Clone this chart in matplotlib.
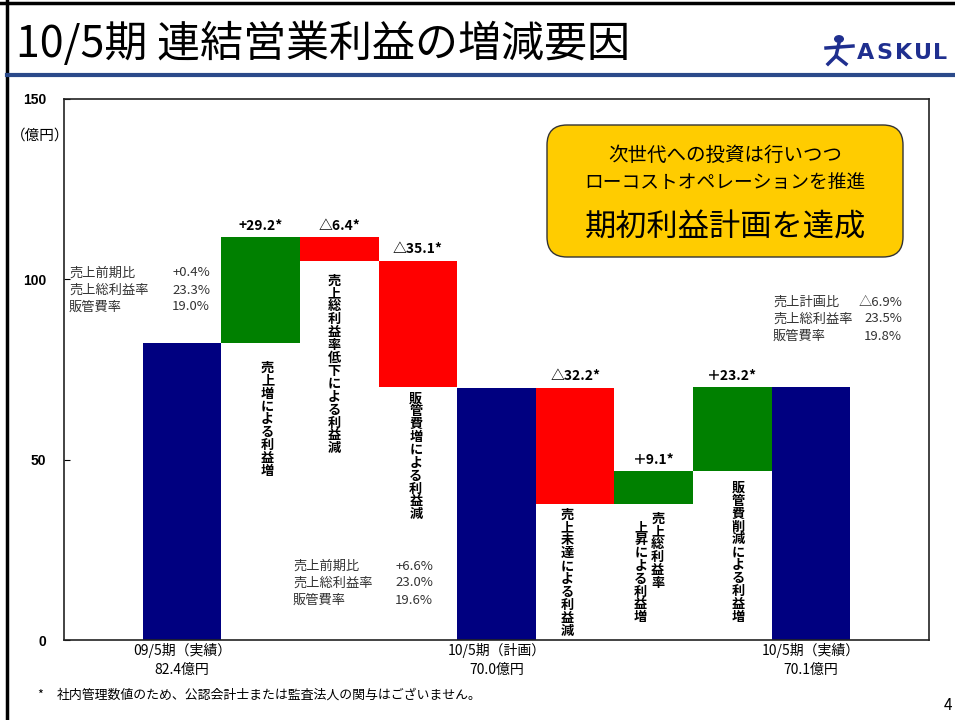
import matplotlib
matplotlib.use("Agg")
import matplotlib.pyplot as plt
from matplotlib.patches import FancyBboxPatch, Circle
from matplotlib.lines import Line2D
from matplotlib.transforms import IdentityTransform

plt.rcParams['font.family'] = ['Noto Sans CJK JP', 'DejaVu Sans']

# Data (億円)
total_names = ["09/5期（実績）", "10/5期（計画）", "10/5期（実績）"]
start_value = 82.4
plan_value = 70.0
result_value = 70.1
first_steps = [29.2, -6.4, -35.1]
second_steps = [-32.2, 9.1, 23.2]
step_labels = ["+29.2*", "△6.4*", "△35.1*", "△32.2*", "＋9.1*", "＋23.2*"]
step_texts = ["売上増による利益増", "売上総利益率低下による利益減", "販管費増による利益減",
              "売上未達による利益減", "売上総利益率\n上昇による利益増", "販管費削減による利益増"]

ann_names_prev = ["売上前期比", "売上総利益率", "販管費率"]
ann_vals_start = ["+0.4%", "23.3%", "19.0%"]
ann_vals_plan = ["+6.6%", "23.0%", "19.6%"]
ann_names_result = ["売上計画比", "売上総利益率", "販管費率"]
ann_vals_result = ["△6.9%", "23.5%", "19.8%"]

yticks = [0, 50, 100, 150]

NAVY, GREEN, RED = "#000080", "#008000", "#FF0000"

# build the waterfall
x_pos, bottoms, heights, colors = [], [], [], []
step_idx = []
def add_total(v):
    x_pos.append(len(x_pos)); bottoms.append(0); heights.append(v); colors.append(NAVY)

def add_steps(base, steps):
    run = base
    for s in steps:
        step_idx.append(len(x_pos))
        x_pos.append(len(x_pos)); bottoms.append(run); heights.append(s)
        colors.append(GREEN if s > 0 else RED)
        run += s

add_total(start_value)
add_steps(start_value, first_steps)
add_total(plan_value)
add_steps(plan_value, second_steps)
add_total(result_value)
totals = [start_value, plan_value, result_value]
total_pos = [0, 4, 8]

W, H = 955, 720
def fx(x): return x / W
def fy(y): return 1 - y / H

fig = plt.figure(figsize=(9.55, 7.2), dpi=100)
ax = fig.add_axes([fx(64), fy(640), (929 - 64) / W, (640 - 99) / H])

ax.bar(x_pos, heights, bottom=bottoms, width=1.0, color=colors, linewidth=0)
ax.set_xlim(-1.5, 9.5)
ax.set_ylim(0, 150)

ax.set_yticks(yticks)
ax.tick_params(axis='y', direction='in', length=4, pad=13, labelsize=10)
for lbl in ax.get_yticklabels():
    lbl.set_fontfamily('Liberation Sans')
    lbl.set_fontweight('bold')
ax.set_xticks(total_pos)
ax.set_xticklabels([f"{n}\n{v:.1f}億円" for n, v in zip(total_names, totals)], fontsize=10)
for lbl in ax.get_xticklabels():
    lbl.set_linespacing(1.45)
ax.tick_params(axis='x', length=0, pad=2)
for sp in ax.spines.values():
    sp.set_linewidth(1.2)
    sp.set_color("#222222")

# value labels on the steps
for i, lab in zip(step_idx, step_labels):
    top = max(bottoms[i], bottoms[i] + heights[i])
    ax.annotate(lab, (x_pos[i], top), xytext=(0, 3), textcoords='offset points',
                ha='center', va='bottom', fontsize=10, fontweight='bold')

# vertical captions under each step (dx, dy in px from bar bottom)
text_offsets = [(7, 25), (-5, 20), (-2, 11), (-8, 11), (4, 15), (6, 17)]
step = 12.9 * 0.72
col_gap = 17 * 0.72
for i, txt, (dx, dy) in zip(step_idx, step_texts, text_offsets):
    low = min(bottoms[i], bottoms[i] + heights[i])
    for c, col in enumerate(txt.split("\n")):
        for k, ch in enumerate(col):
            ax.annotate(ch, (x_pos[i], low),
                        xytext=(dx * 0.72 - c * col_gap, -dy * 0.72 - c * 6 - k * step),
                        textcoords='offset points', ha='center', va='center',
                        fontsize=9.5, fontweight='bold')

# small tables
def table(x_left, x_right, y_top, names, vals):
    for r, (n, v) in enumerate(zip(names, vals)):
        y = y_top + r * 17
        fig.text(fx(x_left), fy(y), n, fontsize=9.5, color="#333333", ha='left', va='center')
        fig.text(fx(x_right), fy(y), v, fontsize=9.5, color="#333333", ha='right', va='center')

table(69, 210, 273, ann_names_prev, ann_vals_start)
table(293, 433, 566, ann_names_prev, ann_vals_plan)
table(773, 902, 302, ann_names_result, ann_vals_result)

fig.text(fx(40), fy(136), "（億円）", fontsize=10.5, ha='center', va='center')

# yellow message box
box = FancyBboxPatch((547, H - 257), 356, 132, boxstyle="round,pad=0,rounding_size=20",
                     transform=IdentityTransform(), facecolor="#FFCC00",
                     edgecolor="#333333", linewidth=1)
fig.add_artist(box)
fig.text(fx(725), fy(155), "次世代への投資は行いつつ", fontsize=14, ha='center', va='center')
fig.text(fx(725), fy(183), "ローコストオペレーションを推進", fontsize=13.5, ha='center', va='center')
fig.text(fx(725), fy(228), "期初利益計画を達成", fontsize=22.5, ha='center', va='center')

# title, frame and logo
fig.text(fx(16), fy(45), "10/5期 連結営業利益の増減要因", fontsize=31, ha='left', va='center')
fig.add_artist(Line2D([0, 1], [fy(3), fy(3)], lw=2.5, color="black", transform=fig.transFigure))
fig.add_artist(Line2D([fx(7), fx(7)], [0, 1], lw=2.5, color="black", transform=fig.transFigure))
fig.add_artist(Line2D([fx(7), 1], [fy(75), fy(75)], lw=3, color="#2B4A8A", transform=fig.transFigure))

logo_c = "#1F2F8F"
for k, letter in enumerate("ASKUL"):
    fig.text(fx(857 + k * 19), fy(53), letter, fontsize=16, fontweight='heavy', color=logo_c,
             family='DejaVu Sans', ha='left', va='center')
fig.add_artist(Circle((fx(839), fy(39)), 0.0045, color=logo_c, transform=fig.transFigure))
for xs, ys in [([826, 853], [48, 46]), ([839, 836], [43, 56]), ([836, 828], [56, 64]),
               ([836, 846], [56, 64])]:
    fig.add_artist(Line2D([fx(v) for v in xs], [fy(v) for v in ys], lw=2.5, color=logo_c,
                          transform=fig.transFigure))

fig.text(fx(40), fy(695), "*", fontsize=9, ha='center', va='center')
fig.text(fx(57), fy(695), "社内管理数値のため、公認会計士または監査法人の関与はございません。",
         fontsize=9.3, ha='left', va='center')
fig.text(fx(944), fy(706), "4", fontsize=11, ha='left', va='center')

fig.savefig("out.png", dpi=100)
